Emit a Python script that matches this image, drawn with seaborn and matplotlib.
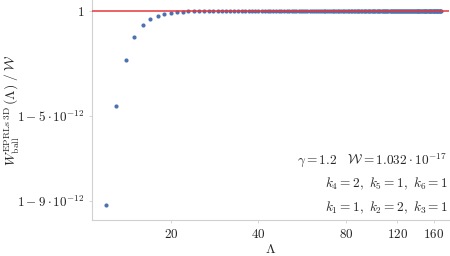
import numpy as np
import pandas as pd
import matplotlib
matplotlib.use("Agg")
import matplotlib.pyplot as plt
import seaborn as sns

# Lambda values (cut-off) and deficit 1 - W/W_inf in units of 1e-12
lambdas = list(range(12, 171))
deficit_head = [9.21, 4.52, 2.34, 1.27, 0.70, 0.41, 0.24, 0.16, 0.095,
                0.06, 0.045, 0.03, 0.02, 0.013, 0.008, 0.005, 0.003, 0.002]
deficit = deficit_head + [0.0] * (len(lambdas) - len(deficit_head))

xticks = [20, 40, 80, 120, 160]
yticks = [0, -5, -9]
ytick_labels = [r"$1$", r"$1-5\cdot10^{-12}$", r"$1-9\cdot10^{-12}$"]

df = pd.DataFrame({"Lambda": lambdas, "ratio": [-d for d in deficit]})

sns.set_style("ticks")
plt.rcParams["mathtext.fontset"] = "cm"
plt.rcParams["font.family"] = ["serif"]
plt.rcParams["font.serif"] = ["DejaVu Serif"]

fig = plt.figure(figsize=(4.5, 2.56), dpi=100)
ax = fig.add_axes([0.204, 0.141, 0.794, 0.859])

sns.scatterplot(data=df, x="Lambda", y="ratio", ax=ax, s=9, linewidth=0,
                color="#4C72B0", zorder=2)
ax.axhline(0, color="#e5383b", lw=1.1, zorder=3)

ax.set_xscale("log")
ax.set_xlim(10.7, 181)
ax.set_ylim(-9.9, 0.5)
ax.set_xticks(xticks)
ax.set_xticklabels([f"${t}$" for t in xticks], fontsize=9.4)
ax.minorticks_off()
ax.set_yticks(yticks)
ax.set_yticklabels(ytick_labels, fontsize=9.4)

ax.set_xlabel(r"$\Lambda$", fontsize=10, labelpad=1)
ax.set_ylabel(r"$W_{\rm ball}^{\rm EPRLs\ 3D}\,(\Lambda)\;/\;\mathcal{W}$",
              fontsize=9.8)
ax.yaxis.set_label_coords(-0.198, 0.5)

sns.despine(ax=ax)
for sp in ["left", "bottom"]:
    ax.spines[sp].set_color("#d0d0d0")
    ax.spines[sp].set_linewidth(0.8)
ax.tick_params(colors="#d0d0d0", labelcolor="#222222", length=2.5, width=0.6, pad=3)

ax.text(0.995, 0.27, r"$\gamma = 1.2\quad \mathcal{W} = 1.032\cdot 10^{-17}$",
        transform=ax.transAxes, ha="right", va="center", fontsize=9.6)
ax.text(0.997, 0.165, r"$k_4 = 2,\ k_5 = 1,\ k_6 = 1$",
        transform=ax.transAxes, ha="right", va="center", fontsize=9.6)
ax.text(0.997, 0.055, r"$k_1 = 1,\ k_2 = 2,\ k_3 = 1$",
        transform=ax.transAxes, ha="right", va="center", fontsize=9.6)

fig.savefig("out.png", dpi=100)
